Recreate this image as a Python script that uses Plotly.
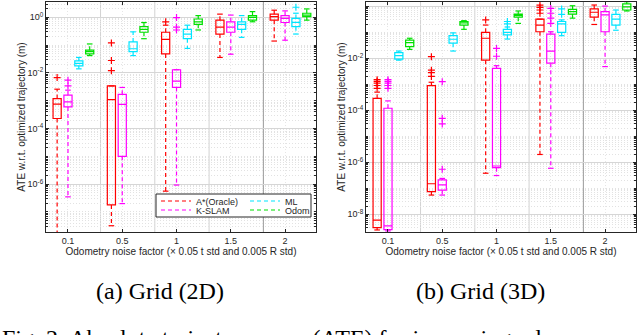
import plotly.graph_objects as go

noise_labels = ["0.1", "0.5", "1", "1.5", "2"]
methods = ["A*(Oracle)", "K-SLAM", "ML", "Odom"]
colors = ["#ff0000", "#ff00ff", "#00e5ff", "#00e000"]

# Grid (2D): one row per method, one column per noise factor
lo_2d = [[1.0e-8, 3.2e-8, 5.6e-7, 3.6e-2, 1.4e-1],
         [3.5e-7, 2.0e-7, 9.3e-7, 4.7e-2, 1.5e-1],
         [1.4e-2, 4.2e-2, 7.6e-2, 1.9e-1, 2.5e-1],
         [4.2e-2, 1.7e-1, 3.5e-1, 6.9e-1, 7.9e-1]]
q1_2d = [[2.3e-4, 1.8e-7, 4.8e-2, 2.5e-1, 7.9e-1],
         [6.0e-4, 1.0e-5, 3.0e-3, 2.9e-1, 6.5e-1],
         [1.8e-2, 5.8e-2, 1.7e-1, 3.7e-1, 4.6e-1],
         [4.8e-2, 2.9e-1, 5.6e-1, 7.9e-1, 1.05]]
med_2d = [[7.6e-4, 1.1e-3, 1.6e-1, 4.4e-1, 1.05],
          [9.1e-4, 7.4e-4, 5.1e-3, 4.4e-1, 9.1e-1],
          [2.2e-2, 7.4e-2, 2.5e-1, 5.6e-1, 6.6e-1],
          [5.8e-2, 3.7e-1, 6.9e-1, 1.0, 1.2]]
q3_2d = [[1.2e-3, 3.4e-3, 2.9e-1, 7.9e-1, 1.3],
         [1.6e-3, 1.7e-3, 1.3e-2, 6.9e-1, 1.15],
         [2.7e-2, 1.3e-1, 3.7e-1, 6.9e-1, 9.1e-1],
         [6.6e-2, 4.6e-1, 8.7e-1, 1.15, 1.4]]
hi_2d = [[2.6e-3, 3.4e-3, 5.2e-1, 1.3, 1.8],
         [2.4e-3, 3.0e-3, 1.3e-2, 1.2, 1.7],
         [3.6e-2, 3.0e-1, 5.2e-1, 1.15, 1.4],
         [1.1e-1, 6.5e-1, 1.15, 1.6, 2.0]]
out_2d = [[[6.8e-3], [1.2e-2, 2.8e-2, 1.2e-1], [6.9e-1], [], []],
          [[3.4e-3, 5.5e-3], [], [3.5e-1, 4.4e-1, 9.8e-1], [], []],
          [[], [], [], [], [2.3]],
          [[], [], [], [], []]]

# Grid (3D)
lo_3d = [[2.5e-9, 5.5e-8, 3.8e-7, 2.0e-6, 2.0e-1],
         [2.3e-9, 5.5e-8, 3.1e-7, 5.9e-7, 4.8e-3],
         [8.5e-3, 1.9e-2, 5.5e-2, 7.4e-2, 1.2e-1],
         [2.2e-2, 1.3e-1, 2.2e-1, 3.5e-1, 6.6e-1]]
q1_3d = [[3.1e-9, 7.4e-8, 8.5e-3, 1.05e-1, 3.8e-1],
         [2.6e-9, 8.5e-8, 6.2e-7, 6.5e-3, 1.05e-1],
         [9.3e-3, 3.8e-2, 7.9e-2, 1.0e-1, 1.9e-1],
         [2.8e-2, 1.9e-1, 3.8e-1, 5.0e-1, 7.2e-1]]
med_3d = [[6.0e-9, 1.5e-7, 5.9e-2, 1.9e-1, 5.9e-1],
          [3.6e-9, 1.35e-7, 7.2e-7, 1.9e-2, 4.7e-1],
          [1.26e-2, 5.4e-2, 1.0e-1, 2.1e-1, 3.2e-1],
          [4.0e-2, 2.3e-1, 4.5e-1, 6.2e-1, 9.5e-1]]
q3_3d = [[2.9e-4, 8.9e-4, 1.0e-1, 3.2e-1, 7.9e-1],
         [1.2e-4, 2.1e-7, 4.1e-3, 8.5e-2, 6.2e-1],
         [1.66e-2, 7.4e-2, 1.3e-1, 2.6e-1, 4.9e-1],
         [5.0e-2, 2.6e-1, 5.0e-1, 7.6e-1, 1.23]]
hi_3d = [[5.0e-4, 1.2e-3, 1.9e-1, 3.2e-1, 1.12],
         [2.3e-4, 2.4e-7, 5.2e-3, 1.05e-1, 1.02],
         [1.9e-2, 9.5e-2, 1.6e-1, 3.0e-1, 7.2e-1],
         [5.9e-2, 2.8e-1, 6.6e-1, 1.05, 1.5]]
out_3d = [[[7.0e-4, 9.0e-4, 1.1e-3, 1.3e-3, 1.5e-3], [2.0e-3, 2.8e-3, 3.5e-3, 1.15e-2],
           [3.0e-1], [5.4e-1, 7.2e-1, 9.1e-1, 1.1], []],
          [[7.0e-4, 9.0e-4, 1.1e-3, 1.3e-3, 1.5e-3], [5.4e-7, 3.0e-5, 4.9e-5, 1.26e-3],
           [1.2e-2, 2.4e-2], [2.2e-1, 3.5e-1, 5.4e-1, 8.3e-1], []],
          [[], [], [2.1e-1, 2.6e-1], [4.9e-1, 7.9e-1], []],
          [[], [], [], [], []]]

W, H = 640, 335
axc = "#262626"
sans = "Liberation Sans, Arial, sans-serif"
font_tick = dict(family=sans, size=9, color=axc)
font_title = dict(family=sans, size=10, color=axc)

fig = go.Figure()

panels = [
    dict(lo=lo_2d, q1=q1_2d, med=med_2d, q3=q3_2d, hi=hi_2d, out=out_2d, xa="x", ya="y"),
    dict(lo=lo_3d, q1=q1_3d, med=med_3d, q3=q3_3d, hi=hi_3d, out=out_3d, xa="x2", ya="y2"),
]

for p, pan in enumerate(panels):
    for k, m in enumerate(methods):
        c = colors[k]
        pos = [g + (k - 1) * 0.2 for g in range(len(noise_labels))]
        fig.add_trace(go.Box(
            x=pos, q1=pan["q1"][k], median=pan["med"][k], q3=pan["q3"][k],
            lowerfence=pan["q1"][k], upperfence=pan["q3"][k],
            width=0.15, whiskerwidth=0, boxpoints=False,
            line=dict(color=c, width=1.2), fillcolor="rgba(0,0,0,0)",
            showlegend=False, hoverinfo="skip", xaxis=pan["xa"], yaxis=pan["ya"]))
        wx, wy = [], []
        for g in range(len(pos)):
            wx += [pos[g], pos[g], None, pos[g], pos[g], None]
            wy += [pan["q3"][k][g], pan["hi"][k][g], None, pan["q1"][k][g], pan["lo"][k][g], None]
        fig.add_trace(go.Scatter(
            x=wx, y=wy, mode="lines", name=m,
            line=dict(color=c, width=1.2, dash="4px,3px"),
            showlegend=(p == 0), legend=("legend" if k in (0, 2) else "legend2"),
            hoverinfo="skip", xaxis=pan["xa"], yaxis=pan["ya"]))
        fig.add_trace(go.Scatter(
            x=pos + pos, y=pan["hi"][k] + pan["lo"][k], mode="markers",
            marker=dict(symbol="line-ew", size=4, line=dict(color=c, width=1.2)),
            showlegend=False, hoverinfo="skip", xaxis=pan["xa"], yaxis=pan["ya"]))
        ox, oy = [], []
        for g in range(len(pos)):
            ox += [pos[g]] * len(pan["out"][k][g])
            oy += pan["out"][k][g]
        fig.add_trace(go.Scatter(
            x=ox, y=oy, mode="markers",
            marker=dict(symbol="cross-thin", size=5, line=dict(color=c, width=1.2)),
            showlegend=False, hoverinfo="skip", xaxis=pan["xa"], yaxis=pan["ya"]))

minor_vals = [mm * 10.0 ** e for e in range(-10, 1) for mm in range(1, 10) if not (mm == 1 and e % 2 == 0)]


def xax(dom, anchor):
    return dict(domain=dom, anchor=anchor, range=[-0.405, 4.57], automargin=False,
                tickvals=list(range(len(noise_labels))), ticktext=noise_labels,
                ticks="inside", ticklen=3, tickcolor=axc, showline=True, linecolor=axc,
                linewidth=1, mirror="ticks", showgrid=True, gridcolor="#e6e6e6",
                griddash="1px,2px", zeroline=False, tickfont=font_tick,
                title=dict(text="Odometry noise factor (× 0.05 t std and 0.005 R std)",
                           font=font_title, standoff=1))


def yax(dom, anchor, rng, exps):
    return dict(domain=dom, anchor=anchor, type="log", range=rng, automargin=False,
                tickvals=[10.0 ** e for e in exps],
                ticktext=["10<sup>%d</sup>" % e for e in exps],
                ticks="inside", ticklen=3, tickcolor=axc, showline=True, linecolor=axc,
                linewidth=1, mirror="ticks", showgrid=True, gridcolor="#d6d6d6",
                zeroline=False, tickfont=font_tick,
                minor=dict(tickvals=minor_vals, showgrid=True, gridcolor="#e2e2e2",
                           griddash="1px,2px", ticks="inside", ticklen=2, tickcolor=axc),
                title=dict(text="ATE w.r.t. optimized trajectory (m)", font=font_title, standoff=0))


ydom = [1 - 232 / H, 1 - 2 / H]
fig.update_layout(
    xaxis=xax([46 / W, 316 / W], "y"),
    yaxis=yax(ydom, "x", [-7.72, 0.55], [0, -2, -4, -6]),
    xaxis2=xax([366 / W, 636 / W], "y2"),
    yaxis2=yax(ydom, "x2", [-8.68, 0.165], [0, -2, -4, -6, -8]),
)

# group separators
for xa in ["x", "x2"]:
    for g in range(len(noise_labels) - 1):
        fig.add_shape(type="line", xref=xa, yref=("y" if xa == "x" else "y2") + " domain",
                      x0=g + 0.6, x1=g + 0.6, y0=0, y1=1, layer="below",
                      line=dict(color="#9a9a9a" if g == 3 else "#d2d2d2", width=1))

# legend frame
fig.add_shape(type="rect", xref="paper", yref="paper",
              x0=156 / W, x1=311 / W, y0=1 - 217 / H, y1=1 - 194 / H,
              fillcolor="white", line=dict(color=axc, width=1), layer="above")

leg = dict(orientation="h", bgcolor="rgba(0,0,0,0)", borderwidth=0,
           font=dict(family=sans, size=9, color=axc),
           itemwidth=30, entrywidth=44, xanchor="left", yanchor="top", x=156 / W)
fig.update_layout(
    legend=dict(leg, y=1 - 186.5 / H),
    legend2=dict(leg, y=1 - 195.5 / H),
)

cap_font = dict(family="Liberation Serif, Times New Roman, serif", size=24, color="black")
fig.add_annotation(text="(a) Grid (2D)", x=160 / W, y=1 - 291 / H, xref="paper", yref="paper",
                   showarrow=False, font=cap_font, xanchor="center", yanchor="middle")
fig.add_annotation(text="(b) Grid (3D)", x=480 / W, y=1 - 291 / H, xref="paper", yref="paper",
                   showarrow=False, font=cap_font, xanchor="center", yanchor="middle")
fig.add_annotation(text="Fig. 2: Absolute trajectory error (ATE) for increasing odom",
                   x=0, y=1 - 338 / H, xref="paper", yref="paper", showarrow=False,
                   font=cap_font, xanchor="left", yanchor="middle")

fig.update_layout(width=W, height=H, margin=dict(l=0, r=0, t=0, b=0),
                  paper_bgcolor="white", plot_bgcolor="white", boxmode="overlay")

# the page body has a default 8px margin; drop it so the figure sits at the window origin
fig.write_html("out.html", config={"displayModeBar": False},
               post_script="document.body.style.margin='0';")
